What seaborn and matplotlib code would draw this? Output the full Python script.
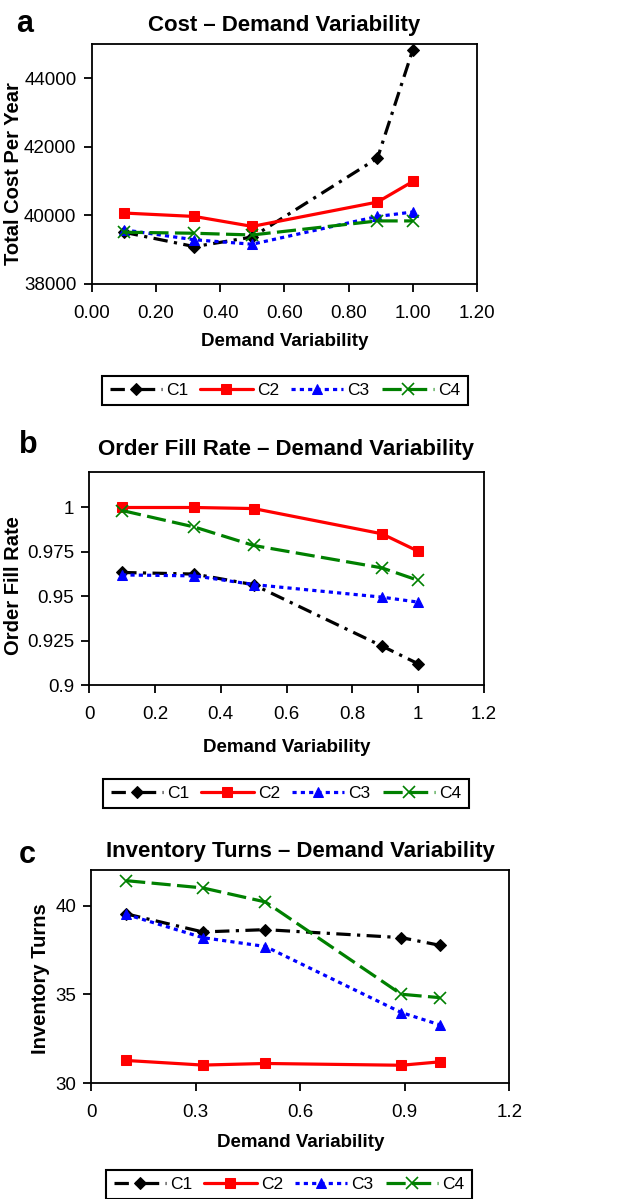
import numpy as np
import pandas as pd
import matplotlib
matplotlib.use("Agg")
import matplotlib.pyplot as plt
import seaborn as sns

# Valores
demand_var = [0.10, 0.32, 0.50, 0.89, 1.00]
configs = ['C1', 'C2', 'C3', 'C4']

cost_c1 = [39510, 39090, 39370, 41670, 44830]
cost_c2 = [40070, 39970, 39680, 40390, 40990]
cost_c3 = [39580, 39290, 39160, 39970, 40100]
cost_c4 = [39510, 39480, 39430, 39840, 39840]

fill_c1 = [0.9634, 0.9625, 0.9565, 0.9220, 0.9120]
fill_c2 = [1.0000, 1.0000, 0.9994, 0.9852, 0.9754]
fill_c3 = [0.9620, 0.9615, 0.9566, 0.9495, 0.9467]
fill_c4 = [0.9983, 0.9890, 0.9786, 0.9660, 0.9590]

turns_c1 = [39.53, 38.51, 38.64, 38.19, 37.76]
turns_c2 = [31.27, 31.01, 31.10, 31.00, 31.19]
turns_c3 = [39.50, 38.19, 37.69, 33.97, 33.28]
turns_c4 = [41.40, 40.99, 40.20, 35.00, 34.81]

cost_ticks = [38000, 40000, 42000, 44000]
fill_ticks = [0.9, 0.925, 0.95, 0.975, 1.0]
fill_tick_labels = ['0.9', '0.925', '0.95', '0.975', '1']
turns_ticks = [30, 35, 40]
x_ticks_ab = [0, 0.2, 0.4, 0.6, 0.8, 1.0, 1.2]
x_labels_a = ['0.00', '0.20', '0.40', '0.60', '0.80', '1.00', '1.20']
x_labels_b = ['0', '0.2', '0.4', '0.6', '0.8', '1', '1.2']
x_ticks_c = [0, 0.3, 0.6, 0.9, 1.2]
x_labels_c = ['0', '0.3', '0.6', '0.9', '1.2']

sns.set_style('white')
plt.rcParams['font.family'] = ['Liberation Sans', 'DejaVu Sans']
plt.rcParams['text.color'] = 'black'
plt.rcParams['axes.labelcolor'] = 'black'
plt.rcParams['xtick.color'] = 'black'
plt.rcParams['ytick.color'] = 'black'

# estilo de cada configuracion
styles = {
    'C1': dict(color='black', marker='D', markersize=6, linestyle=(0, (4.5, 2, 1, 2))),
    'C2': dict(color='red', marker='s', markersize=6.5, linestyle='-'),
    'C3': dict(color='blue', marker='^', markersize=7, linestyle=(0, (1.3, 1.3))),
    'C4': dict(color='green', marker='x', markersize=9, markeredgewidth=1.2, linestyle=(0, (6, 2))),
}

W, H = 641, 1199
fig = plt.figure(figsize=(W / 100, H / 100), dpi=100)


def px_axes(left, top, right, bottom):
    return fig.add_axes([left / W, 1 - bottom / H, (right - left) / W, (bottom - top) / H])


def draw_panel(ax, series, title, title_pad, ylabel, ylab_xy, xlab_y, legend_xy, letter, letter_xy):
    df = pd.DataFrame({'x': np.tile(demand_var, 4),
                       'y': np.concatenate(series),
                       'cfg': np.repeat(configs, len(demand_var))})
    for cfg in configs:
        sub = df[df['cfg'] == cfg]
        sns.lineplot(data=sub, x='x', y='y', ax=ax, label=cfg, linewidth=2.3,
                     markeredgecolor=styles[cfg]['color'], **styles[cfg])
    for sp in ax.spines.values():
        sp.set_color('black')
        sp.set_linewidth(1.3)
    ax.tick_params(axis='both', which='both', direction='out', length=6, width=1.3,
                   colors='black', labelsize=13.5, bottom=True, left=True, top=False, right=False)
    ax.tick_params(axis='x', pad=9)
    ax.tick_params(axis='y', pad=5)
    ax.set_xlim(0, 1.2)
    ax.set_title(title, fontsize=16, fontweight='bold', pad=title_pad, color='black')
    ax.set_xlabel('Demand Variability', fontsize=13.5, fontweight='bold')
    ax.xaxis.set_label_coords(0.5, xlab_y)
    ax.set_ylabel(ylabel, fontsize=14.5, fontweight='bold')
    ax.yaxis.set_label_coords(*ylab_xy)
    handles, labels = ax.get_legend_handles_labels()
    ax.get_legend().remove()
    leg = fig.legend(handles, labels, loc='center',
                     bbox_to_anchor=(legend_xy[0] / W, 1 - legend_xy[1] / H),
                     bbox_transform=fig.transFigure, ncol=4, frameon=True, fancybox=False,
                     edgecolor='black', framealpha=1, handlelength=3.0, columnspacing=0.7,
                     handletextpad=0.25, borderpad=0.42, borderaxespad=0, fontsize=12.5,
                     labelcolor='black')
    leg.get_frame().set_linewidth(1.5)
    fig.text(letter_xy[0] / W, 1 - letter_xy[1] / H, letter, fontsize=22,
             fontweight='bold', ha='center', va='baseline', color='black')


# a) Costo
ax_a = px_axes(91.7, 44, 477, 284)
draw_panel(ax_a, [cost_c1, cost_c2, cost_c3, cost_c4], 'Cost – Demand Variability', 9,
           'Total Cost Per Year', (-0.179, 0.46), -0.205, (285, 390.5), 'a', (25, 32))
ax_a.set_ylim(38000, 45000)
ax_a.set_yticks(cost_ticks)
ax_a.set_xticks(x_ticks_ab)
ax_a.set_xticklabels(x_labels_a)

# b) Tasa de llenado
ax_b = px_axes(89.3, 472, 483.7, 685)
draw_panel(ax_b, [fill_c1, fill_c2, fill_c3, fill_c4], 'Order Fill Rate – Demand Variability', 12,
           'Order Fill Rate', (-0.168, 0.469), -0.255, (286, 793.5), 'b', (28, 453))
ax_b.set_ylim(0.9, 1.02)
ax_b.set_yticks(fill_ticks)
ax_b.set_yticklabels(fill_tick_labels)
ax_b.set_xticks(x_ticks_ab)
ax_b.set_xticklabels(x_labels_b)

# c) Rotacion de inventario
ax_c = px_axes(91.3, 870, 509.3, 1083)
draw_panel(ax_c, [turns_c1, turns_c2, turns_c3, turns_c4], 'Inventory Turns – Demand Variability', 9,
           'Inventory Turns', (-0.099, 0.49), -0.24, (289, 1184.5), 'c', (27, 863))
ax_c.set_ylim(30, 42)
ax_c.set_yticks(turns_ticks)
ax_c.set_xticks(x_ticks_c)
ax_c.set_xticklabels(x_labels_c)

fig.savefig('out.png', dpi=100)
